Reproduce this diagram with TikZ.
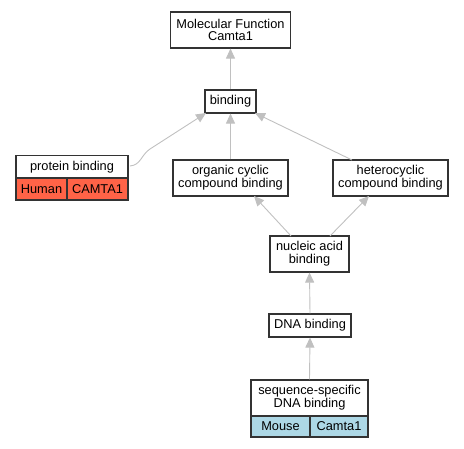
\documentclass[tikz,border=0pt]{standalone}
\usepackage{fontspec}
\setmainfont{Liberation Sans}
\usetikzlibrary{arrows.meta}
\definecolor{edgegray}{HTML}{C0C0C0}
\definecolor{boxline}{HTML}{333333}
\definecolor{humanred}{HTML}{FF6347}
\definecolor{mouseblue}{HTML}{ADD8E6}
\tikzset{
  term/.style={draw=boxline, line width=1.1pt, fill=white, align=center, inner sep=0pt,
    font=\fontsize{12.8}{12.8}\selectfont},
  cell/.style={draw=boxline, line width=1.1pt, inner sep=0pt, font=\fontsize{12.8}{12.8}\selectfont},
  isa/.style={draw=edgegray, line width=0.9pt, -{Triangle[length=10pt,width=9pt]}},
}
\begin{document}
\begin{tikzpicture}[x=1pt,y=-1pt]
\useasboundingbox (0,0) rectangle (464,448);
\node[term, minimum width=120pt, minimum height=36pt] (mf) at (230.5,30) {Molecular Function\\Camta1};
\node[term, minimum width=51pt, minimum height=23pt] (bind) at (230.5,101.5) {binding};
\node[term, minimum width=112pt, minimum height=23pt] (pb) at (72,167) {protein binding};
\node[cell, fill=humanred, minimum width=51pt, minimum height=22pt] (human) at (41.5,189) {Human};
\node[cell, fill=humanred, minimum width=61pt, minimum height=22pt] (camtaH) at (97.5,189) {CAMTA1};
\node[term, minimum width=115pt, minimum height=36pt] (occ) at (230.5,178) {organic cyclic\\compound binding};
\node[term, minimum width=115pt, minimum height=36pt] (hcc) at (390.5,178) {heterocyclic\\compound binding};
\node[term, minimum width=79pt, minimum height=36pt] (nab) at (309.5,254) {nucleic acid\\binding};
\node[term, minimum width=82pt, minimum height=23pt] (dna) at (310,325.5) {DNA binding};
\node[term, minimum width=117pt, minimum height=36pt] (ssd) at (309.5,398) {sequence-specific\\DNA binding};
\node[cell, fill=mouseblue, minimum width=59pt, minimum height=21pt] (mouse) at (280.5,426.5) {Mouse};
\node[cell, fill=mouseblue, minimum width=58pt, minimum height=21pt] (camtaM) at (339,426.5) {Camta1};
\coordinate (pbout) at (130,166);
\coordinate (bindL) at (206,113);
\coordinate (bindR) at (255,113);
\coordinate (hccTop) at (352,160);
\coordinate (nabL) at (291,236);
\coordinate (nabR) at (330,236);
\coordinate (occB) at (254,196);
\coordinate (hccB) at (369,196);
\draw[isa] (bind.north) -- (mf.south);
\draw[isa] (occ.north) -- (bind.south);
\draw[isa] (hccTop) -- (bindR);
\draw[isa] (pbout) .. controls (141,165) and (141,155) .. (150,149) -- (bindL);
\draw[isa] (nabL) -- (occB);
\draw[isa] (nabR) -- (hccB);
\draw[isa] (dna.north) -- (nab.south);
\draw[isa] (ssd.north) -- (dna.south);
\end{tikzpicture}
\end{document}
